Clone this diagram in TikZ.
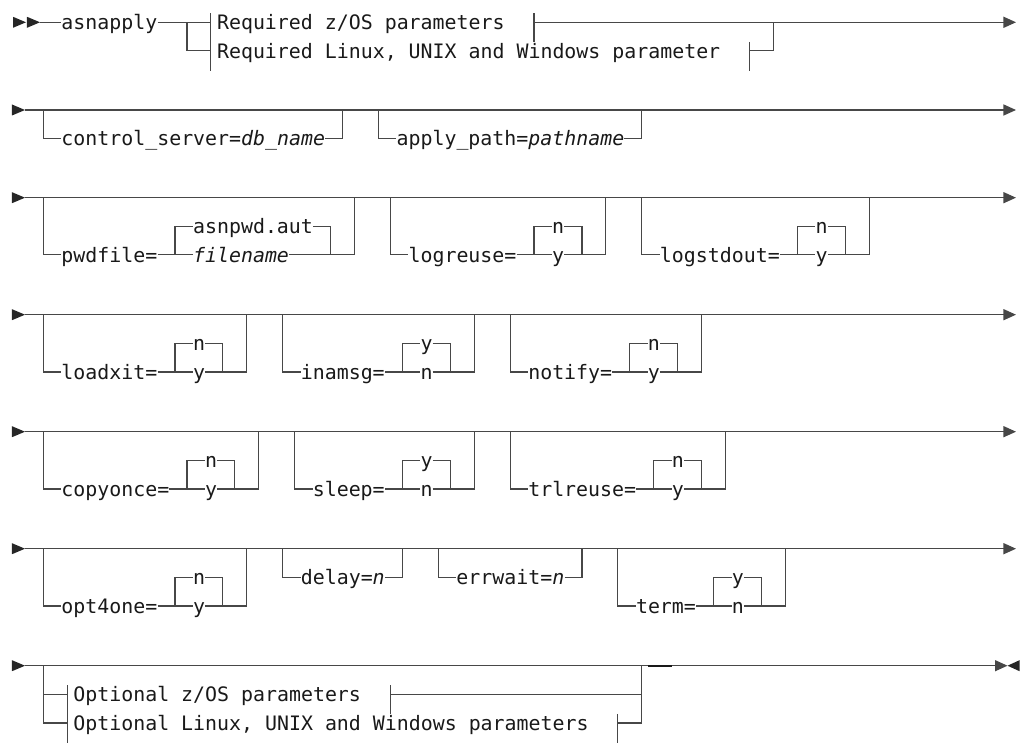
\documentclass[tikz,border=0pt]{standalone}
\usepackage{fontspec}
\usepackage{tikz}
\usetikzlibrary{arrows.meta}
\newfontfamily\rrfont{DejaVu Sans Mono}[ItalicFont={DejaVu Sans Mono Oblique}]

\begin{document}
\frenchspacing
\begin{tikzpicture}[x=11.97pt,y=-1pt,
  track/.style={draw=black!72, line width=1.2pt},
  lbl/.style={inner sep=0pt, anchor=west, text height=19pt, text depth=4.4pt, text=black!90, font={\rrfont\fontsize{19.9pt}{24pt}\selectfont}},
  rowend/.style={-{Triangle[length=12.5pt,width=11pt]}}]
\useasboundingbox (0pt,0pt) rectangle (1022pt,-743pt);
\begin{scope}[xshift=43.3pt]

% asnapply
\begin{scope}[shift={(0,22.3)}]
\coordinate (s1) at (-0.276,0);
\coordinate (e1) at (81.26,0);
\fill[black!85] (s1) -- ++(-13pt,5.5pt) -- ++(0pt,-11pt) -- cycle;
\fill[black!85] (-1.445,0) -- ++(-13pt,5.5pt) -- ++(0pt,-11pt) -- cycle;
\node[lbl] (asn) at (1.5,0) {asnapply};
\node[lbl] (reqA) at (14.5,0) {Required z/OS parameters};
\node[lbl] (reqB) at (14.5,28.6) {Required Linux, UNIX and Windows parameter};
\draw[track] (s1) -- (asn.west);
\draw[track] (asn.east) -- (14,0);
\draw[track] (12,0) |- (14,28.6);
\draw[track] (14,-9) -- (14,48.6);
\draw[track] (41,-9) -- (41,20);
\draw[track,rowend] (41,0) -- (e1);
\draw[track] (59,19.6) -- (59,48.6);
\draw[track] (59,28.6) -| (61,0);
\end{scope}

% control_server, apply_path
\begin{scope}[shift={(0,110)}]
\coordinate (s2) at (-1.529,0);
\coordinate (e2) at (81.26,0);
\fill[black!85] (s2) -- ++(-13pt,5.5pt) -- ++(0pt,-11pt) -- cycle;
\node[lbl] (ctl) at (1.5,28.6) {control\_server=\textit{db\_name}};
\node[lbl] (app) at (29.5,28.6) {apply\_path=\textit{pathname}};
\draw[track,rowend] (s2) -- (e2);
\draw[track] (0,0) |- (ctl.west);
\draw[track] (ctl.east) -| (25,0);
\draw[track] (28,0) |- (app.west);
\draw[track] (app.east) -| (50,0);
\end{scope}

% pwdfile, logreuse, logstdout
\begin{scope}[shift={(0,197.7)}]
\coordinate (s3) at (-1.529,0);
\coordinate (e3) at (81.26,0);
\fill[black!85] (s3) -- ++(-13pt,5.5pt) -- ++(0pt,-11pt) -- cycle;
\draw[track,rowend] (s3) -- (e3);
\node[lbl] (pwd) at (1.5,57.2) {pwdfile=};
\node[lbl] (pwdA) at (12.5,28.6) {asnpwd.aut};
\node[lbl] (pwdB) at (12.5,57.2) {\textit{filename}};
\draw[track] (0,0) |- (pwd.west);
\draw[track] (pwd.east) -- (pwdB.west);
\draw[track] (11,57.2) |- (pwdA.west);
\draw[track] (pwdA.east) -| (24,57.2);
\draw[track] (pwdB.east) -- (26,57.2) -- (26,0);
\node[lbl] (lr) at (30.5,57.2) {logreuse=};
\node[lbl] (lrN) at (42.5,28.6) {n};
\node[lbl] (lrY) at (42.5,57.2) {y};
\draw[track] (29,0) |- (lr.west);
\draw[track] (lr.east) -- (lrY.west);
\draw[track] (41,57.2) |- (lrN.west);
\draw[track] (lrN.east) -| (45,57.2);
\draw[track] (lrY.east) -- (47,57.2) -- (47,0);
\node[lbl] (ls) at (51.5,57.2) {logstdout=};
\node[lbl] (lsN) at (64.5,28.6) {n};
\node[lbl] (lsY) at (64.5,57.2) {y};
\draw[track] (50,0) |- (ls.west);
\draw[track] (ls.east) -- (lsY.west);
\draw[track] (63,57.2) |- (lsN.west);
\draw[track] (lsN.east) -| (67,57.2);
\draw[track] (lsY.east) -- (69,57.2) -- (69,0);
\end{scope}

% loadxit, inamsg, notify
\begin{scope}[shift={(0,314.7)}]
\coordinate (s4) at (-1.529,0);
\coordinate (e4) at (81.26,0);
\fill[black!85] (s4) -- ++(-13pt,5.5pt) -- ++(0pt,-11pt) -- cycle;
\draw[track,rowend] (s4) -- (e4);
\node[lbl] (lx) at (1.5,57.2) {loadxit=};
\node[lbl] (lxN) at (12.5,28.6) {n};
\node[lbl] (lxY) at (12.5,57.2) {y};
\draw[track] (0,0) |- (lx.west);
\draw[track] (lx.east) -- (lxY.west);
\draw[track] (11,57.2) |- (lxN.west);
\draw[track] (lxN.east) -| (15,57.2);
\draw[track] (lxY.east) -- (17,57.2) -- (17,0);
\node[lbl] (im) at (21.5,57.2) {inamsg=};
\node[lbl] (imY) at (31.5,28.6) {y};
\node[lbl] (imN) at (31.5,57.2) {n};
\draw[track] (20,0) |- (im.west);
\draw[track] (im.east) -- (imN.west);
\draw[track] (30,57.2) |- (imY.west);
\draw[track] (imY.east) -| (34,57.2);
\draw[track] (imN.east) -- (36,57.2) -- (36,0);
\node[lbl] (nt) at (40.5,57.2) {notify=};
\node[lbl] (ntN) at (50.5,28.6) {n};
\node[lbl] (ntY) at (50.5,57.2) {y};
\draw[track] (39,0) |- (nt.west);
\draw[track] (nt.east) -- (ntY.west);
\draw[track] (49,57.2) |- (ntN.west);
\draw[track] (ntN.east) -| (53,57.2);
\draw[track] (ntY.east) -- (55,57.2) -- (55,0);
\end{scope}

% copyonce, sleep, trlreuse
\begin{scope}[shift={(0,431.7)}]
\coordinate (s5) at (-1.529,0);
\coordinate (e5) at (81.26,0);
\fill[black!85] (s5) -- ++(-13pt,5.5pt) -- ++(0pt,-11pt) -- cycle;
\draw[track,rowend] (s5) -- (e5);
\node[lbl] (co) at (1.5,57.2) {copyonce=};
\node[lbl] (coN) at (13.5,28.6) {n};
\node[lbl] (coY) at (13.5,57.2) {y};
\draw[track] (0,0) |- (co.west);
\draw[track] (co.east) -- (coY.west);
\draw[track] (12,57.2) |- (coN.west);
\draw[track] (coN.east) -| (16,57.2);
\draw[track] (coY.east) -- (18,57.2) -- (18,0);
\node[lbl] (sl) at (22.5,57.2) {sleep=};
\node[lbl] (slY) at (31.5,28.6) {y};
\node[lbl] (slN) at (31.5,57.2) {n};
\draw[track] (21,0) |- (sl.west);
\draw[track] (sl.east) -- (slN.west);
\draw[track] (30,57.2) |- (slY.west);
\draw[track] (slY.east) -| (34,57.2);
\draw[track] (slN.east) -- (36,57.2) -- (36,0);
\node[lbl] (tr) at (40.5,57.2) {trlreuse=};
\node[lbl] (trN) at (52.5,28.6) {n};
\node[lbl] (trY) at (52.5,57.2) {y};
\draw[track] (39,0) |- (tr.west);
\draw[track] (tr.east) -- (trY.west);
\draw[track] (51,57.2) |- (trN.west);
\draw[track] (trN.east) -| (55,57.2);
\draw[track] (trY.east) -- (57,57.2) -- (57,0);
\end{scope}

% opt4one, delay, errwait, term
\begin{scope}[shift={(0,548.7)}]
\coordinate (s6) at (-1.529,0);
\coordinate (e6) at (81.26,0);
\fill[black!85] (s6) -- ++(-13pt,5.5pt) -- ++(0pt,-11pt) -- cycle;
\draw[track,rowend] (s6) -- (e6);
\node[lbl] (o4) at (1.5,57.2) {opt4one=};
\node[lbl] (o4N) at (12.5,28.6) {n};
\node[lbl] (o4Y) at (12.5,57.2) {y};
\draw[track] (0,0) |- (o4.west);
\draw[track] (o4.east) -- (o4Y.west);
\draw[track] (11,57.2) |- (o4N.west);
\draw[track] (o4N.east) -| (15,57.2);
\draw[track] (o4Y.east) -- (17,57.2) -- (17,0);
\node[lbl] (dl) at (21.5,28.6) {delay=\textit{n}};
\draw[track] (20,0) |- (dl.west);
\draw[track] (dl.east) -| (30,0);
\node[lbl] (ew) at (34.5,28.6) {errwait=\textit{n}};
\draw[track] (33,0) |- (ew.west);
\draw[track] (ew.east) -| (45,0);
\node[lbl] (tm) at (49.5,57.2) {term=};
\node[lbl] (tmY) at (57.5,28.6) {y};
\node[lbl] (tmN) at (57.5,57.2) {n};
\draw[track] (48,0) |- (tm.west);
\draw[track] (tm.east) -- (tmN.west);
\draw[track] (56,57.2) |- (tmY.west);
\draw[track] (tmY.east) -| (60,57.2);
\draw[track] (tmN.east) -- (62,57.2) -- (62,0);
\end{scope}

% optional parameters
\begin{scope}[shift={(0,665.7)}]
\coordinate (s7) at (-1.529,0);
\coordinate (e7) at (80.552,0);
\fill[black!85] (s7) -- ++(-13pt,5.5pt) -- ++(0pt,-11pt) -- cycle;
\draw[track,rowend] (s7) -- (e7);
\fill[black!85] (e7) -- ++(12pt,5.5pt) -- ++(0pt,-11pt) -- cycle;
\node[lbl] (optA) at (2.5,28.6) {Optional z/OS parameters};
\node[lbl] (optB) at (2.5,57.2) {Optional Linux, UNIX and Windows parameters};
\draw[track] (0,0) |- (2,57.2);
\draw[track] (0,28.6) -- (2,28.6);
\draw[track] (2,19.6) -- (2,77.2);
\draw[track] (29,19.6) -- (29,48.6);
\draw[track] (29,28.6) -- (50,28.6);
\draw[track] (48,48.2) -- (48,77.2);
\draw[track] (48,57.2) -| (50,0);
\draw[line width=2pt,black!90] (50.5,0) -- (52.5,0);
\end{scope}

\end{scope}
\end{tikzpicture}
\end{document}
